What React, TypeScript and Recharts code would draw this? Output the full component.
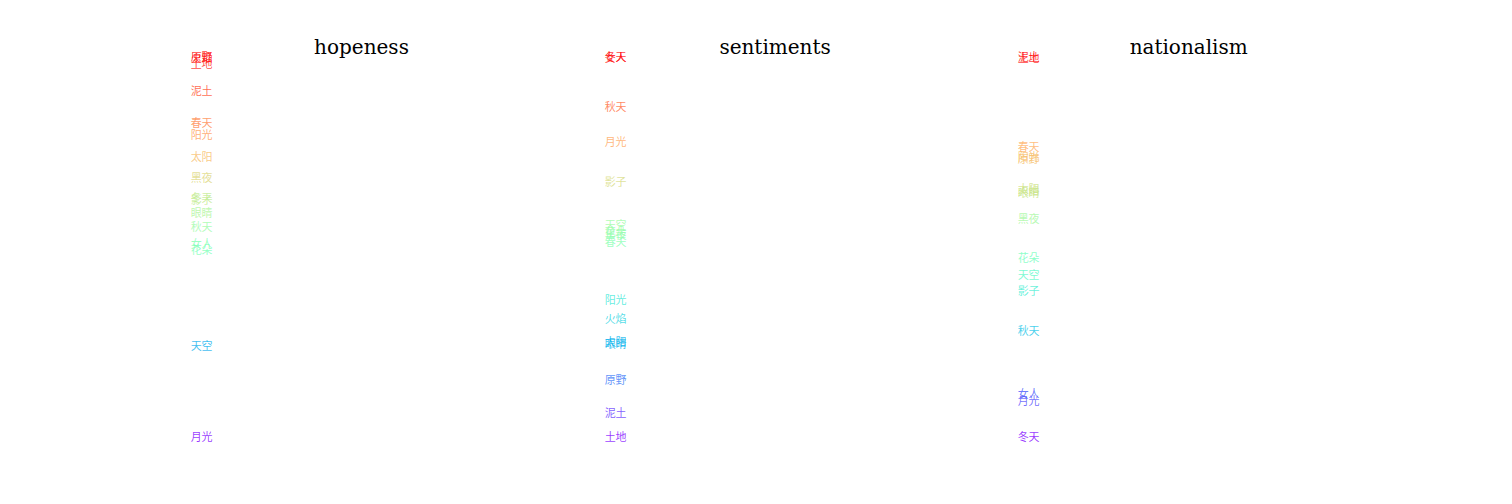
import { Scatter, ScatterChart, XAxis, YAxis } from "recharts";

const words = ["原野", "火焰", "土地", "泥土", "春天", "阳光", "太阳", "黑夜", "冬天", "影子", "眼睛", "秋天", "女人", "花朵", "天空", "月光"];

// normalised scores per dimension, same order as words
const hopeness = [1.0, 0.997, 0.982, 0.911, 0.826, 0.795, 0.737, 0.682, 0.629, 0.624, 0.589, 0.553, 0.508, 0.492, 0.239, 0.0];
const sentiments = [0.15, 0.311, 0.0, 0.063, 0.513, 0.361, 0.25, 0.532, 1.0, 0.671, 0.245, 0.868, 0.997, 0.539, 0.558, 0.776];
const nationalism = [0.732, 0.647, 0.997, 1.0, 0.763, 0.737, 0.653, 0.574, 0.0, 0.384, 0.642, 0.279, 0.113, 0.471, 0.426, 0.095];

const panels = [
  { title: "hopeness", values: hopeness },
  { title: "sentiments", values: sentiments },
  { title: "nationalism", values: nationalism },
];

// matplotlib "rainbow" colormap
function rainbow(t: number) {
  const r = Math.min(1, Math.abs(2 * t - 0.5));
  const g = Math.sin(Math.PI * t);
  const b = Math.cos((Math.PI / 2) * t);
  const c = (v: number) => Math.round(Math.max(0, Math.min(1, v)) * 255);
  return `rgb(${c(r)},${c(g)},${c(b)})`;
}

const PANEL_W = 345;
const PANEL_STEP = 413.6;
const FIRST_LEFT = 189;

function WordLabel(props: any) {
  const { cx, cy, payload } = props;
  return (
    <text
      x={cx}
      y={cy}
      textAnchor="middle"
      dominantBaseline="central"
      fontSize={11}
      fontFamily="'Noto Sans CJK SC', sans-serif"
      fill={rainbow(payload.value)}
      fillOpacity={0.78}
    >
      {payload.word}
    </text>
  );
}

function Panel({ title, values, left }: { title: string; values: number[]; left: number }) {
  const data = words.map((w, i) => ({ word: w, x: 0, value: values[i] }));
  return (
    <div style={{ position: "absolute", left, top: 0, width: PANEL_W, height: 504 }}>
      <div
        style={{
          position: "absolute",
          left: 0,
          width: PANEL_W,
          top: 35,
          textAlign: "center",
          fontFamily: "'DejaVu Serif', serif",
          fontSize: 20,
          lineHeight: "24px",
          color: "#000",
        }}
      >
        {title}
      </div>
      <ScatterChart width={PANEL_W} height={504} margin={{ top: 56, bottom: 68, left: 0, right: 0 }}>
        <XAxis type="number" dataKey="x" domain={[-0.038, 1]} hide />
        <YAxis type="number" dataKey="value" domain={[0, 1]} hide />
        <Scatter data={data} shape={<WordLabel />} isAnimationActive={false} />
      </ScatterChart>
    </div>
  );
}

export default function App() {
  return (
    <div style={{ position: "relative", width: 1512, height: 504, margin: -8, background: "#fff" }}>
      {panels.map((p, i) => (
        <Panel key={p.title} title={p.title} values={p.values} left={FIRST_LEFT + i * PANEL_STEP} />
      ))}
    </div>
  );
}
